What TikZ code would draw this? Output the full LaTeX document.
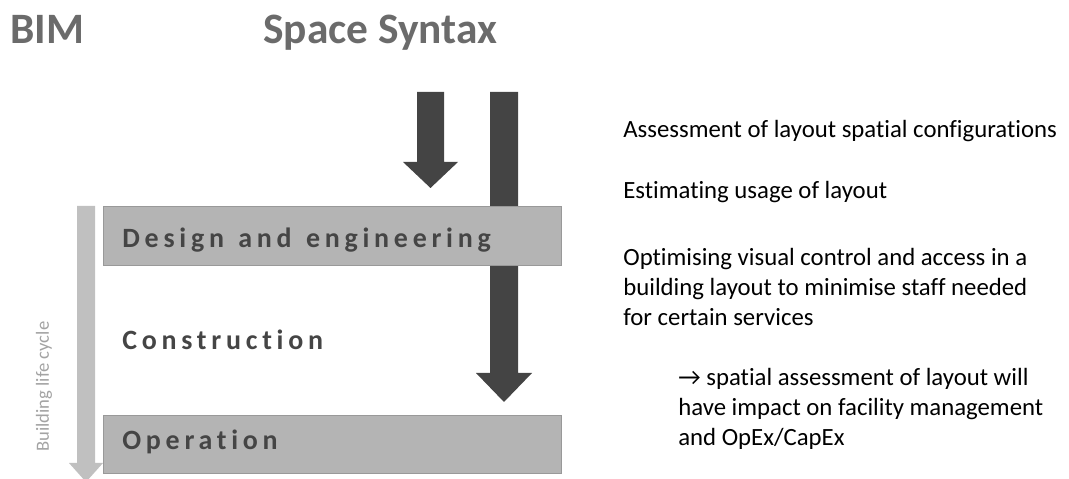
\documentclass[tikz,border=0pt]{standalone}
\usepackage{fontspec}
\setmainfont{Carlito}[Ligatures={NoCommon}]
\newfontfamily\phasefont{Carlito}[Ligatures={NoCommon}, LetterSpace=17, WordSpace=1.3]
\usepackage{tikz}
\usetikzlibrary{calc}
\definecolor{headgray}{HTML}{6B6B6B}
\definecolor{boxgray}{HTML}{B4B4B4}
\definecolor{darkarrow}{HTML}{444444}
\definecolor{lifegray}{HTML}{C0C0C0}
\definecolor{phasetext}{HTML}{454545}
\tikzset{
    heading/.style={anchor=base west, inner sep=0pt, text=headgray, font=\fontsize{24.7}{28}\selectfont\bfseries},
    phasebox/.style={fill=boxgray, draw=boxgray!85!black, line width=0.3pt},
    phase/.style={anchor=base west, inner sep=0pt, text=phasetext, font=\phasefont\fontsize{15.9}{18}\selectfont\bfseries},
    note/.style={anchor=base west, inner sep=0pt, align=left, font=\fontsize{14.1}{17.1}\selectfont}
}
\begin{document}
\begin{tikzpicture}[x=0.02cm, y=-0.02cm]
\useasboundingbox (0,0) rectangle (1069,479);
% titles
\node[heading] (bim) at (10,44) {BIM};
\node[heading] (spsyn) at (263,44) {Space Syntax};
% short arrow
\fill[darkarrow] (417,92) -- (444,92) -- (444,162) -- (458,162) -- (430.5,188) -- (403,162) -- (417,162) -- cycle;
% long arrow, behind the phases
\fill[darkarrow] (490,92) -- (518,92) -- (518,373) -- (532,373) -- (504,402) -- (476,373) -- (490,373) -- cycle;
% building life cycle
\fill[lifegray] (77,206) -- (95,206) -- (95,463) -- (103,463) -- (86,482) -- (69,463) -- (77,463) -- cycle;
\node[rotate=90, anchor=base west, inner sep=0pt, text=lifegray!85!black, font=\fontsize{10.6}{12}\selectfont] (life) at (49,452) {Building life cycle};
% phases
\draw[phasebox] (103,206) rectangle (561,265);
\draw[phasebox] (103,415) rectangle (561,473);
\foreach \y/\p/\t in {248/design/{Design and engineering}, 350/constr/{Construction}, 450/oper/{Operation}}{
    \node[phase] (\p) at (122,\y) {\t};
}
% notes (base of a multi-line node sits below its last line)
\node[note] (n1) at (623,138) {Assessment of layout spatial configurations};
\node[note] (n2) at (623,199) {Estimating usage of layout};
\node[note] (n3) at (623,326) {Optimising visual control and access in a\\building layout to minimise staff needed\\for certain services};
\node[note] (n4) at (678,446) {\textrightarrow\ spatial assessment of layout will\\have impact on facility management\\and OpEx/CapEx};
\end{tikzpicture}
\end{document}
